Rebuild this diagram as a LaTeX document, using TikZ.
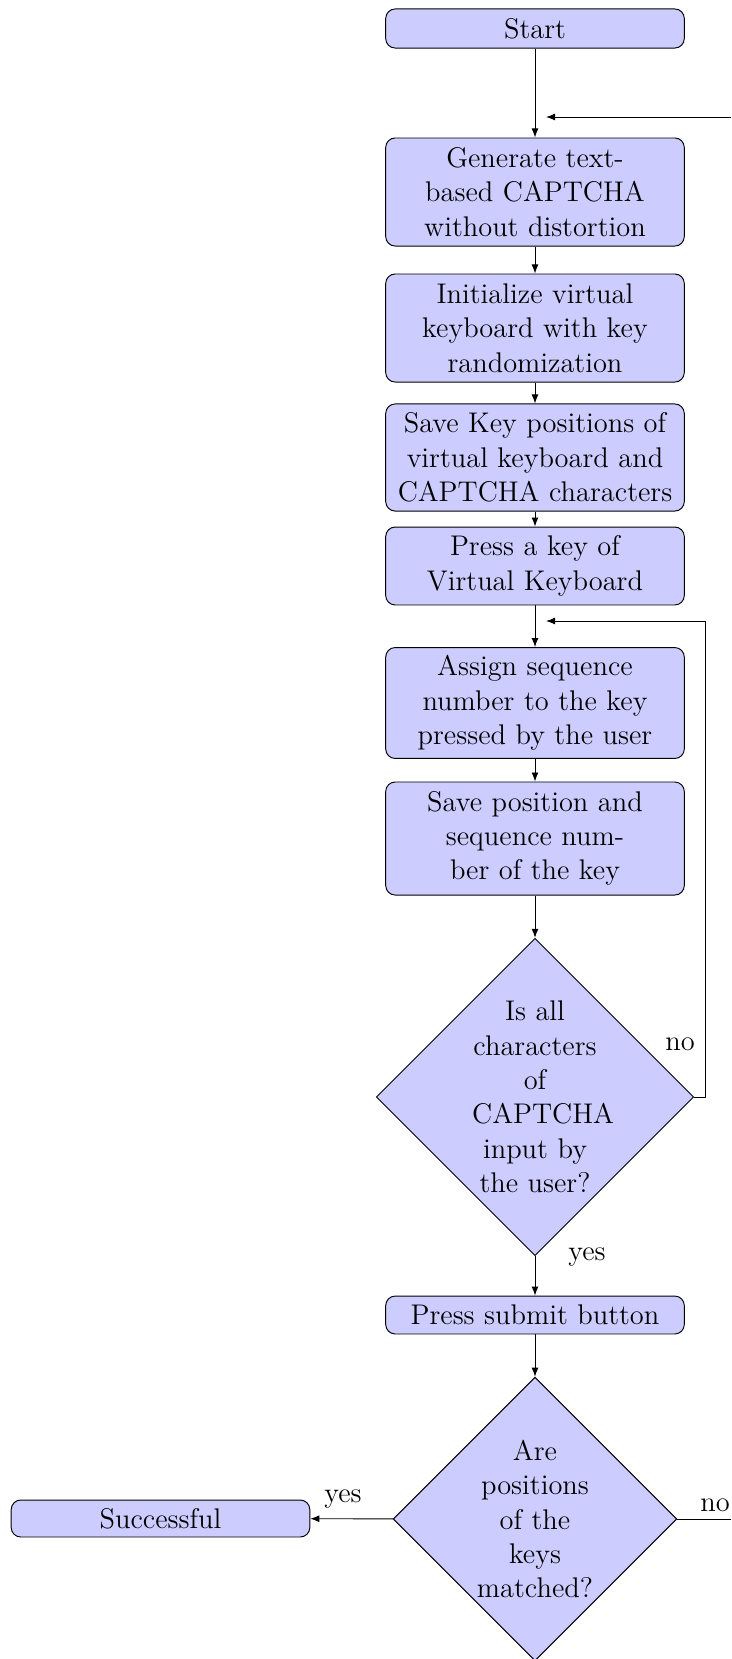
\documentclass[tikz,border=0pt]{standalone}
\usetikzlibrary{shapes.geometric,arrows.meta}
\begin{document}
\begin{tikzpicture}[x=0.422pt, y=-0.422pt,
  txt/.style={font=\fontsize{12}{14.5}\selectfont},
  block/.style={txt, rectangle, draw, fill=blue!20, rounded corners=4pt,
    text width=118pt, inner xsep=4pt, inner ysep=1pt, align=center},
  decision/.style={txt, diamond, draw, fill=blue!20, aspect=1,
    inner sep=0pt, text width=53pt, align=center},
  arr/.style={draw, -{Latex[length=3.8pt,width=2.9pt]}}
]
\useasboundingbox (0,0) rectangle (731,1659);

% process steps
\node[block, minimum height=16.5pt] (start) at (535,28.5) {Start};
\node[block, minimum height=45.6pt] (gen) at (535,192) {Generate text-\\based CAPTCHA\\without distortion};
\node[block, minimum height=45.6pt] (init) at (535,328) {Initialize virtual\\keyboard with key\\randomization};
\node[block, minimum height=45.2pt] (savekey) at (535,457.5) {Save Key positions of\\virtual keyboard and\\CAPTCHA characters};
\node[block, minimum height=32.9pt] (press) at (535,566) {Press a key of\\Virtual Keyboard};
\node[block, minimum height=46.8pt] (assign) at (535,703) {Assign sequence\\number to the key\\pressed by the user};
\node[block, minimum height=47.7pt] (savepos) at (535,838.5) {Save position and\\sequence num-\\ber of the key};
\node[decision] (allin) at (535,1097) {Is all\\characters\\of\\CAPTCHA\\input by\\the user?};
\node[block, minimum height=16pt] (submit) at (535,1315) {Press submit button};
\node[decision] (match) at (535,1519) {Are\\positions\\of the\\keys\\matched?};
\node[block, minimum height=15.6pt] (ok) at (160.5,1518.5) {Successful};

% loose ends of the loops
\coordinate (topin) at (546,117);
\coordinate (topedge) at (731,117);
\coordinate (loopin) at (546,621);
\coordinate (botedge) at (731,1519);

% main flow
\draw[arr] (start) -- (gen);
\draw[arr] (gen) -- (init);
\draw[arr] (init) -- (savekey);
\draw[arr] (savekey) -- (press);
\draw[arr] (press) -- (assign);
\draw[arr] (assign) -- (savepos);
\draw[arr] (savepos) -- (allin);
\draw[arr] (allin) -- (submit);
\draw[arr] (submit) -- (match);
\draw[arr] (match) -- (ok);

% return paths
\draw[arr] (allin.east) -- ++(11,0) |- (loopin);
\draw[arr] (topedge) -- (topin);
\draw (match.east) -- (botedge);

% branch labels
\node[txt] (lno1) at (680,1044) {no};
\node[txt] (lyes1) at (587,1257) {yes};
\node[txt] (lyes2) at (343,1499) {yes};
\node[txt] (lno2) at (715,1505) {no};
\end{tikzpicture}
\end{document}
